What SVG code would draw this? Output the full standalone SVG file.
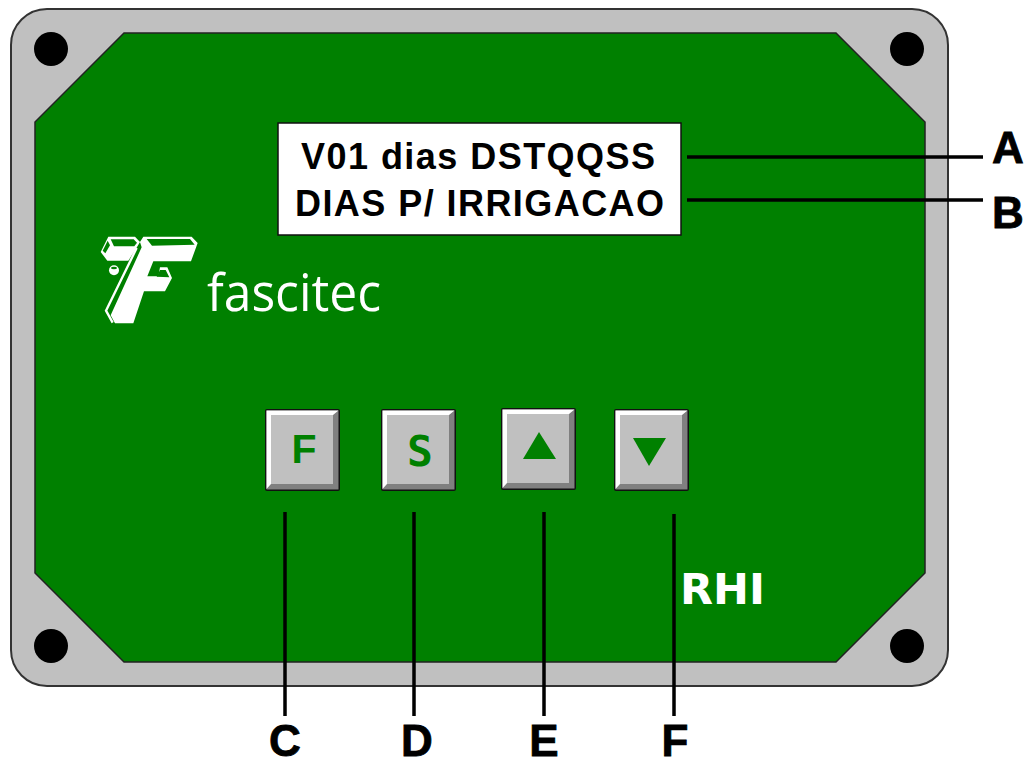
<svg xmlns="http://www.w3.org/2000/svg" width="1025" height="759" viewBox="0 0 1025 759">
<style>
.hole{fill:#000}
.lbl{font:bold 44px "Liberation Sans",Arial,sans-serif;fill:#000;text-anchor:middle;stroke:#000;stroke-width:.8}
.disp{font:bold 36px "Liberation Sans",Arial,sans-serif;fill:#000}
.line{stroke:#000;stroke-width:3.5;fill:none}
.g{fill:#008000}
.w{fill:#fff}
</style>
<rect width="1025" height="759" fill="#fff"/>
<g id="enclosure">
<rect x="11" y="9" width="937" height="677" rx="36" ry="36" fill="#c0c0c0" stroke="#333" stroke-width="2"/>
<polygon points="124,33 836,33 925,122 925,573 836,662 124,662 35,573 35,122" fill="#008000" stroke="#222" stroke-width="1.5"/>
<circle class="hole" cx="51" cy="49" r="17"/><circle class="hole" cx="907" cy="49" r="17"/>
<circle class="hole" cx="51" cy="646" r="17"/><circle class="hole" cx="907" cy="646" r="17"/>
</g>
<g id="display">
<rect x="278" y="123" width="403" height="112" fill="#fff" stroke="#111" stroke-width="1.5"/>
<text class="disp" x="301" y="169" textLength="354" lengthAdjust="spacing">V01 dias DSTQQSS</text>
<text class="disp" x="295" y="216" textLength="369" lengthAdjust="spacing">DIAS P/ IRRIGACAO</text>
</g>
<g id="logo">
<g transform="translate(90 228) scale(.3333)">
<polygon class="w" points="55,26 135,26 150,42 138,62 115,98 52,98 32,72"/>
<path d="M140,60 L48,248 L68,284" fill="none" stroke="#fff" stroke-width="7"/>
<polygon class="w" points="155,58 150,42 160,26 305,26 323,45 303,100 190,100 172,145 205,145 210,118 232,118 246,150 225,190 162,190 130,286 75,286 62,262"/>
<polygon class="g" points="170,33 300,33 314,50 186,53"/>
<polygon class="g" points="62,34 131,34 141,44 133,55 72,55"/>
<polygon class="g" points="53,38 60,52 46,76 38,68"/>
<polygon class="g" points="210,126 227,126 238,148 200,146"/>
<circle class="w" cx="72" cy="127" r="15"/>
<ellipse class="g" cx="72" cy="120" rx="9" ry="3.500"/>
</g>
<text x="207" y="311" font-family="'Open Sans','Noto Sans','Liberation Sans',sans-serif" font-size="51" fill="#fff" textLength="174" lengthAdjust="spacingAndGlyphs">fascitec</text>
</g>
<defs>
<g id="key">
<rect x="0" y="0" width="75" height="82" rx="2" fill="#111"/>
<rect x="1.5" y="1.5" width="72" height="79" fill="#808080"/>
<polygon points="1.500,1.500 73.500,1.500 68,6 6,6 6,75 1.500,80" fill="#fff"/>
<rect x="6" y="6" width="62" height="69" fill="#c0c0c0"/>
</g>
</defs>
<g id="key-f"><use href="#key" x="265" y="409"/><text x="304" y="463" font-family="'Liberation Sans',Arial,sans-serif" font-weight="bold" font-size="41" text-anchor="middle" class="g">F</text></g>
<g id="key-s"><use href="#key" x="381" y="409"/><text x="420" y="466" font-family="'DejaVu Sans Mono',monospace" font-weight="bold" font-size="43" text-anchor="middle" class="g">S</text></g>
<g id="key-up"><use href="#key" x="501" y="408"/><polygon class="g" points="539,432 556,459 523,459"/></g>
<g id="key-down"><use href="#key" x="614" y="409"/><polygon class="g" points="633,438 666,438 649,466"/></g>
<text id="model" x="680" y="604" font-family="'DejaVu Sans',sans-serif" font-weight="bold" font-size="42" fill="#fff" textLength="85" lengthAdjust="spacingAndGlyphs">RHI</text>
<g id="connectors">
<path class="line" d="M687,157H983M687,200H983M285,512V716M414,512V716M544,512V716M674,514V716"/>
</g>
<g id="labels">
<text class="lbl" x="1008" y="163">A</text><text class="lbl" x="1008" y="228">B</text>
<text class="lbl" x="285" y="756">C</text><text class="lbl" x="417" y="756">D</text>
<text class="lbl" x="544" y="756">E</text><text class="lbl" x="675" y="756">F</text>
</g>
</svg>
